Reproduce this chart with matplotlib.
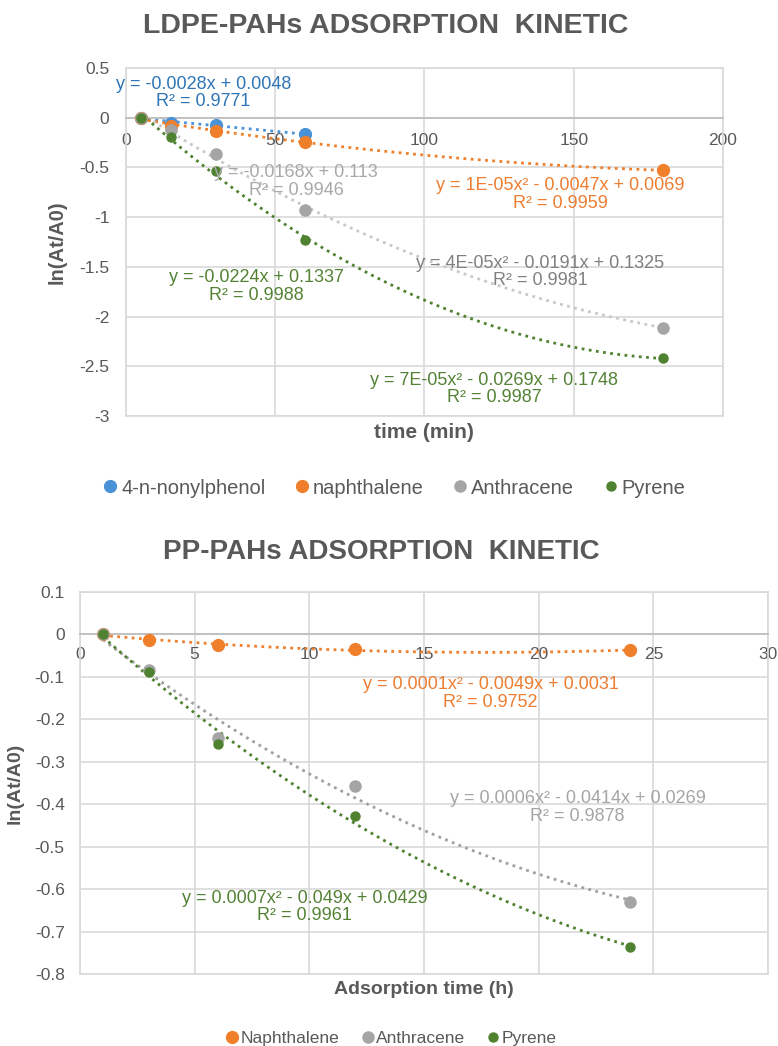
import numpy as np
import matplotlib
matplotlib.use("Agg")
import matplotlib.pyplot as plt
from matplotlib.lines import Line2D

plt.rcParams['font.family'] = ['Liberation Sans', 'DejaVu Sans']
TXT = '#595959'
GRID = '#d9d9d9'

# ---- LDPE data (time in min) ----
t_ldpe = [5, 15, 30, 60, 180]
nonyl = [0, -0.05, -0.075, -0.165]
naph_ldpe = [0, -0.08, -0.137, -0.24, -0.53]
anth_ldpe = [0, -0.12, -0.36, -0.925, -2.11]
pyr_ldpe = [0, -0.19, -0.54, -1.23, -2.42]

# ---- PP data (time in h) ----
t_pp = [1, 3, 6, 12, 24]
naph_pp = [0, -0.0125, -0.026, -0.035, -0.037]
anth_pp = [0, -0.083, -0.244, -0.358, -0.63]
pyr_pp = [0, -0.089, -0.257, -0.428, -0.737]

c_blue = '#4a92d8'
c_orange = '#f07f2c'
c_gray = '#a5a5a5'
c_green = '#4f8230'


def trend(ax, x, y, deg, color):
    p = np.polyfit(x, y, deg)
    xs = np.linspace(min(x), max(x), 200)
    ax.plot(xs, np.polyval(p, xs), color=color, lw=2.0,
            linestyle=(0, (1, 1.6)), zorder=2)


def fmt(v, pos):
    v = round(v, 2) + 0.0
    if v == 0:
        return '0'
    return '%g' % v


def style_axes(ax, xlim, ylim, xstep, ystep, pad_y, pad_x):
    ax.set_xlim(xlim)
    ax.set_ylim(ylim)
    ax.set_xticks(np.arange(xlim[0], xlim[1] + 0.001, xstep))
    ax.set_yticks(np.round(np.arange(ylim[0], ylim[1] + 0.001, ystep), 2))
    ax.grid(True, color=GRID, lw=1.2)
    ax.set_axisbelow(True)
    for s in ['left', 'top', 'right']:
        ax.spines[s].set_color(GRID)
        ax.spines[s].set_linewidth(1.2)
    ax.spines['bottom'].set_position(('data', 0))
    ax.spines['bottom'].set_color('#bfbfbf')
    ax.spines['bottom'].set_linewidth(1.3)
    ax.axhline(ylim[0], color=GRID, lw=1.2, clip_on=False)
    ax.tick_params(axis='both', length=0, labelsize=12.5, labelcolor=TXT)
    ax.tick_params(axis='y', pad=pad_y)
    ax.tick_params(axis='x', pad=pad_x)
    ax.yaxis.set_major_formatter(matplotlib.ticker.FuncFormatter(fmt))


fig = plt.figure(figsize=(7.78, 10.46), dpi=100)

# ================= top chart =================
ax1 = fig.add_axes([126 / 778, 1 - 416 / 1046, (723 - 126) / 778, (416 - 68) / 1046])
style_axes(ax1, (0, 200), (-3, 0.5), 50, 0.5, 12, 11)

trend(ax1, t_ldpe[:4], nonyl, 1, c_blue)
trend(ax1, t_ldpe, naph_ldpe, 2, c_orange)
trend(ax1, t_ldpe, anth_ldpe, 2, '#c8c8c8')
trend(ax1, t_ldpe, pyr_ldpe, 2, c_green)

ax1.plot(t_ldpe[:4], nonyl, 'o', color=c_blue, ms=8.5, zorder=3)
ax1.plot(t_ldpe, naph_ldpe, 'o', color=c_orange, ms=8.5, zorder=3)
ax1.plot(t_ldpe, anth_ldpe, 'o', color=c_gray, ms=8, zorder=3)
ax1.plot(t_ldpe, pyr_ldpe, 'o', color=c_green, ms=6.5, zorder=4)

eq_kw = dict(ha='center', va='center', fontsize=13, multialignment='center', linespacing=1.05, zorder=5)
ax1.text(26, 0.25, 'y = -0.0028x + 0.0048\nR² = 0.9771', color='#2e75b6', **eq_kw)
ax1.text(57, -0.64, 'y = -0.0168x + 0.113\nR² = 0.9946', color='#a9a9a9', **eq_kw)
ax1.text(43.6, -1.695, 'y = -0.0224x + 0.1337\nR² = 0.9988', color='#548235', **eq_kw)
ax1.text(145.4, -0.77, 'y = 1E-05x² - 0.0047x + 0.0069\nR² = 0.9959', color='#ed7d31', **eq_kw)
ax1.text(138.7, -1.55, 'y = 4E-05x² - 0.0191x + 0.1325\nR² = 0.9981', color='#808080', **eq_kw)
ax1.text(123.3, -2.73, 'y = 7E-05x² - 0.0269x + 0.1748\nR² = 0.9987', color='#548235', **eq_kw)

ax1.set_ylabel('ln(At/A0)', fontsize=14.5, fontweight='bold', color=TXT, labelpad=9)
fig.text(424 / 778, 1 - 432 / 1046, 'time (min)', ha='center', va='center',
         fontsize=15, fontweight='bold', color=TXT)
fig.text(386 / 778, 1 - 26 / 1046, 'LDPE-PAHs ADSORPTION  KINETIC', ha='center', va='center',
         fontsize=20.5, fontweight='bold', color=TXT)

h1 = [Line2D([], [], marker='o', ls='', color=c, ms=m) for c, m in
      [(c_blue, 8.5), (c_orange, 8.5), (c_gray, 8), (c_green, 6.5)]]
fig.legend(h1, ['4-n-nonylphenol', 'naphthalene', 'Anthracene', 'Pyrene'],
           loc='center', bbox_to_anchor=(395 / 778, 1 - 488 / 1046), ncol=4, frameon=False,
           fontsize=14.5, labelcolor=TXT, handlelength=0.6, handletextpad=0.25,
           columnspacing=1.5)

# ================= bottom chart =================
ax2 = fig.add_axes([80 / 778, 1 - 974 / 1046, (768 - 80) / 778, (974 - 592) / 1046])
style_axes(ax2, (0, 30), (-0.8, 0.1), 5, 0.1, 11, 9)

trend(ax2, t_pp, naph_pp, 2, c_orange)
trend(ax2, t_pp, anth_pp, 2, '#a0a0a0')
trend(ax2, t_pp, pyr_pp, 2, c_green)

ax2.plot(t_pp, naph_pp, 'o', color=c_orange, ms=8.5, zorder=3)
ax2.plot(t_pp, anth_pp, 'o', color=c_gray, ms=8, zorder=3)
ax2.plot(t_pp, pyr_pp, 'o', color=c_green, ms=6.5, zorder=4)

ax2.text(17.9, -0.139, 'y = 0.0001x² - 0.0049x + 0.0031\nR² = 0.9752', color='#ed7d31', **eq_kw)
ax2.text(21.7, -0.408, 'y = 0.0006x² - 0.0414x + 0.0269\nR² = 0.9878', color='#a5a5a5', **eq_kw)
ax2.text(9.8, -0.642, 'y = 0.0007x² - 0.049x + 0.0429\nR² = 0.9961', color='#548235', **eq_kw)

ax2.set_ylabel('ln(At/A0)', fontsize=14, fontweight='bold', color=TXT, labelpad=8)
fig.text(424 / 778, 1 - 989 / 1046, 'Adsorption time (h)', ha='center', va='center',
         fontsize=14, fontweight='bold', color=TXT)
fig.text(381 / 778, 1 - 552 / 1046, 'PP-PAHs ADSORPTION  KINETIC', ha='center', va='center',
         fontsize=20, fontweight='bold', color=TXT)

h2 = [Line2D([], [], marker='o', ls='', color=c, ms=m) for c, m in
      [(c_orange, 8.5), (c_gray, 8), (c_green, 6.5)]]
fig.legend(h2, ['Naphthalene', 'Anthracene', 'Pyrene'],
           loc='center', bbox_to_anchor=(392 / 778, 1 - 1038 / 1046), ncol=3, frameon=False,
           fontsize=12.5, labelcolor=TXT, handlelength=0.6, handletextpad=0.2,
           columnspacing=1.3)

fig.savefig('out.png', dpi=100, facecolor='white')
